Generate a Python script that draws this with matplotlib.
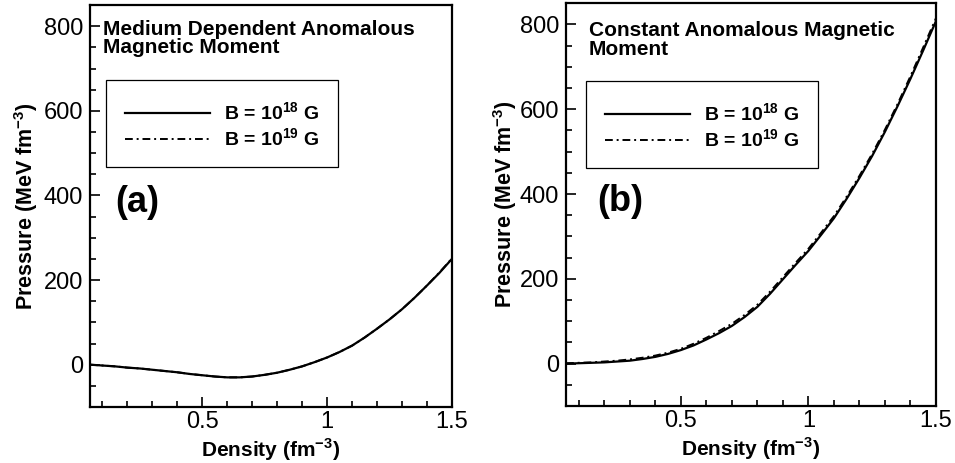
import matplotlib
matplotlib.use("Agg")
import matplotlib.pyplot as plt
from matplotlib.patches import Rectangle
from matplotlib.ticker import MultipleLocator
import numpy as np

plt.rcParams['font.family'] = ['Liberation Sans', 'DejaVu Sans']
plt.rcParams['mathtext.fontset'] = 'custom'
plt.rcParams['mathtext.rm'] = 'Liberation Sans'
plt.rcParams['mathtext.bf'] = 'Liberation Sans:bold'

# density grid (fm^-3)
density = [0.05, 0.1, 0.15, 0.2, 0.25, 0.3, 0.35, 0.4, 0.45, 0.5, 0.55, 0.6, 0.65, 0.7, 0.75,
           0.8, 0.85, 0.9, 0.95, 1.0, 1.05, 1.1, 1.15, 1.2, 1.25, 1.3, 1.35, 1.4, 1.45, 1.5]

# (a) medium dependent anomalous magnetic moment, pressure (MeV fm^-3)
p_a_18 = [0, -2, -4, -7, -9, -12, -15, -18, -22, -25, -28, -30, -30, -28, -24,
          -19, -12, -4, 6, 17, 30, 45, 64, 85, 107, 131, 158, 187, 217, 250]
p_a_19 = [0, -2, -4, -7, -9, -12, -15, -18, -22, -25, -28, -30, -30, -28, -24,
          -19, -12, -4, 6, 17, 30, 45, 64, 85, 107, 131, 158, 187, 218, 251]

# (b) constant anomalous magnetic moment
p_b_18 = [0, 1, 2, 3, 5, 7, 11, 16, 23, 32, 43, 57, 72, 89, 110,
          134, 165, 199, 233, 266, 304, 343, 389, 438, 490, 547, 608, 672, 739, 808]
p_b_19 = [1, 2, 3, 5, 7, 10, 14, 19, 26, 35, 47, 61, 77, 94, 115,
          139, 170, 204, 238, 271, 309, 348, 394, 443, 495, 552, 613, 678, 746, 815]

titles = ["Medium Dependent Anomalous\nMagnetic Moment",
          "Constant Anomalous Magnetic\nMoment"]
tags = ["(a)", "(b)"]
leg_labels = [r"B = 10$^{\mathbf{18}}$ G", r"B = 10$^{\mathbf{19}}$ G"]

fig = plt.figure(figsize=(9.55, 4.63), dpi=100)
ax1 = fig.add_axes([0.0942, 0.121, 0.379, 0.868])
ax2 = fig.add_axes([0.5927, 0.123, 0.3874, 0.870])

dashdot = (0, (4, 2, 1, 2))

setups = [
    (ax1, p_a_18, p_a_19, (0.036, 0.963), (0.069, 0.51), (0.044, 0.597, 0.641, 0.216), -0.138),
    (ax2, p_b_18, p_b_19, (0.062, 0.955), (0.084, 0.508), (0.054, 0.591, 0.627, 0.215), -0.126),
]

for i, (ax, y18, y19, tpos, tagpos, box, ylx) in enumerate(setups):
    l1, = ax.plot(density, y18, color='black', lw=1.6)
    l2, = ax.plot(density, y19, color='black', lw=1.4, linestyle=dashdot)
    ax.set_xlim(0.05, 1.5)
    ax.set_ylim(-100, 850)
    ax.xaxis.set_minor_locator(MultipleLocator(0.1))
    ax.yaxis.set_major_locator(MultipleLocator(200))
    ax.yaxis.set_minor_locator(MultipleLocator(50))
    ax.set_xticks([0.5, 1.0, 1.5])
    ax.set_xticklabels(["0.5", "1", "1.5"])
    ax.tick_params(which='both', direction='in', top=False, right=False,
                   labelsize=17, width=1.2)
    ax.tick_params(which='major', length=7, pad=5)
    ax.tick_params(axis='x', which='major', pad=3)
    ax.tick_params(which='minor', length=4)
    for s in ax.spines.values():
        s.set_linewidth(1.6)

    ax.set_xlabel(r"Density (fm$^{\mathbf{-3}}$)", fontsize=15, fontweight='bold')
    ax.set_ylabel(r"Pressure (MeV fm$^{\mathbf{-3}}$)", fontsize=15.5, fontweight='bold')
    ax.xaxis.set_label_coords(0.5, -0.074)
    ax.yaxis.set_label_coords(ylx, 0.5)

    ax.text(tpos[0], tpos[1], titles[i], transform=ax.transAxes, fontsize=15,
            fontweight='bold', va='top', ha='left', linespacing=0.95)
    ax.text(tagpos[0], tagpos[1], tags[i], transform=ax.transAxes, fontsize=26,
            fontweight='bold', va='center', ha='left')

    ax.add_patch(Rectangle((box[0], box[1]), box[2], box[3], transform=ax.transAxes,
                           fill=False, edgecolor='black', lw=0.9, zorder=3))
    ax.legend([l1, l2], leg_labels, loc='center',
              bbox_to_anchor=(box[0] + box[2] / 2, box[1] + box[3] / 2 - 0.005),
              frameon=False, prop={'weight': 'bold', 'size': 14},
              handlelength=4.4, handletextpad=0.7, labelspacing=0.2)

fig.savefig("out.png", dpi=100)
